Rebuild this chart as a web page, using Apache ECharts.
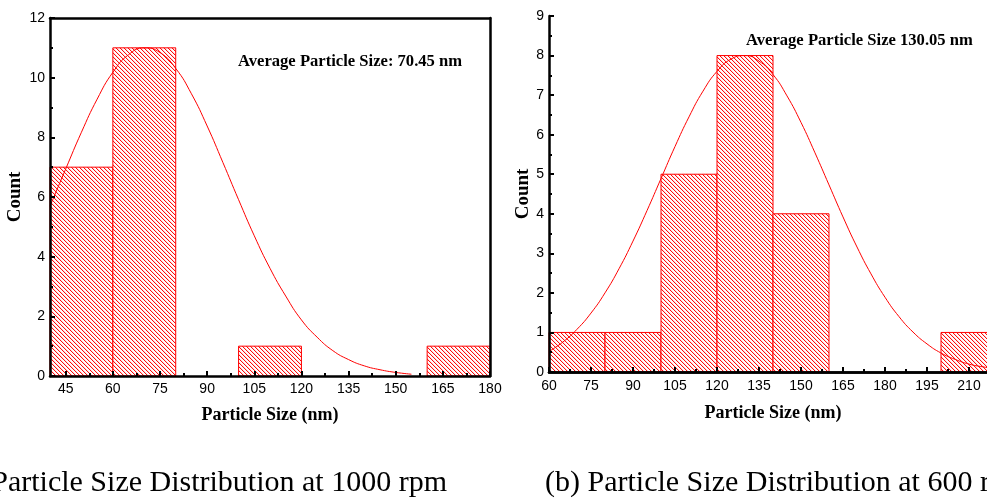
<!DOCTYPE html>
<html>
<head>
<meta charset="utf-8">
<script src="https://cdn.jsdelivr.net/npm/echarts@6/dist/echarts.min.js"></script>
<style>
html,body{margin:0;padding:0;overflow:hidden;background:#fff;width:987px;height:500px;}
#c{width:1010px;height:500px;}
</style>
</head>
<body>
<div id="c"></div>
<script>
// ---- Data (a) 1000 rpm ----
const leftBinStart = [40, 60, 100, 160];
const leftBinEnd   = [60, 80, 120, 180];
const leftCounts   = [7, 11, 1, 1];
const leftCurveX = [40,45,50,55,60,65,70,75,80,85,90,95,100,105,110,115,120,125,130,135,140,145,150,155];
const leftCurveY = [5.69,6.94,8.17,9.28,10.18,10.77,11.0,10.84,10.31,9.46,8.38,7.16,5.91,4.70,3.61,2.68,1.88,1.30,0.85,0.55,0.34,0.21,0.12,0.06];
const leftXTicks = [45,60,75,90,105,120,135,150,165,180];
const leftXMinor = [52.5,67.5,82.5,97.5,112.5,127.5,142.5,157.5,172.5];
const leftNote = 'Average Particle Size: 70.45 nm';

// ---- Data (b) 600 rpm ----
const rightBinStart = [60, 80, 100, 120, 140, 200];
const rightBinEnd   = [80, 100, 120, 140, 160, 220];
const rightCounts   = [1, 1, 5, 8, 4, 1];
const rightCurveX = [60,65,70,75,80,85,90,95,100,105,110,115,120,125,130,135,140,145,150,155,160,165,170,175,180,185,190,195,200,205,210,215,220];
const rightCurveY = [0.52,0.76,1.08,1.49,2.00,2.61,3.31,4.08,4.89,5.70,6.45,7.10,7.60,7.91,8.0,7.86,7.52,6.98,6.31,5.54,4.73,3.92,3.16,2.48,1.89,1.40,1.01,0.71,0.48,0.32,0.20,0.13,0.08];
const rightXLabels = [60,75,90,105,120,135,150,165,180,195,210];
const rightNote = 'Average Particle Size 130.05 nm';

const xTitle = 'Particle Size (nm)';
const yTitle = 'Count';
const captionA = '(a) Particle Size Distribution at 1000 rpm';
const captionB = '(b) Particle Size Distribution at 600 rpm';

// hatch pattern
const pc = document.createElement('canvas');
pc.width = 4; pc.height = 4;
const g = pc.getContext('2d');
g.fillStyle = '#fff'; g.fillRect(0,0,4,4);
for (let i = 0; i < 4; i++) {
  g.fillStyle = 'rgba(255,0,0,0.95)'; g.fillRect(i, i, 1, 1);
  g.fillStyle = 'rgba(255,0,0,0.15)'; g.fillRect((i+1)%4, i, 1, 1);
}
const hatch = {image: pc, repeat: 'repeat'};

function bins(s, e, c){ return s.map((v,i)=>[v, e[i], c[i]]); }
function pts(xs, ys){ return xs.map((v,i)=>[v, ys[i]]); }

function renderBar(params, api){
  const p0 = api.coord([api.value(0), api.value(2)]);
  const p1 = api.coord([api.value(1), 0]);
  return {type:'rect', shape:{x:p0[0], y:p0[1], width:p1[0]-p0[0], height:p1[1]-p0[1]},
    style:{fill: hatch, stroke:'#ff0000', lineWidth:1}};
}

const lab = {color:'#000', fontFamily:'Liberation Sans', fontSize:14};
const nameStyle = {color:'#000', fontFamily:'Liberation Serif', fontWeight:'bold', fontSize:18};
const line = {show:true, lineStyle:{color:'#000', width:2.5}};
const tick = {show:true, inside:true, length:5, lineStyle:{color:'#000', width:2}};
const minor = {show:true, splitNumber:2, length:3, lineStyle:{color:'#000', width:2}};

const chart = echarts.init(document.getElementById('c'), null, {renderer:'canvas'});
chart.setOption({
  animation:false,
  grid:[
    {left:50, top:18, width:440, height:358},
    {left:549, top:16, width:448, height:356}
  ],
  xAxis:[
    {gridIndex:0, type:'value', min:40, max:180, position:'bottom', z:10,
     axisLine:line, splitLine:{show:false},
     axisTick:Object.assign({}, tick, {customValues:leftXTicks}),
     axisLabel:Object.assign({}, lab, {customValues:leftXTicks, margin:6}),
     name:xTitle, nameLocation:'middle', nameGap:30, nameTextStyle:nameStyle},
    {gridIndex:0, type:'value', min:40, max:180, position:'bottom', z:10,
     axisLine:{show:false}, splitLine:{show:false}, axisLabel:{show:false},
     axisTick:{show:true, inside:true, length:3, lineStyle:{color:'#000', width:2}, customValues:leftXMinor}},
    {gridIndex:0, type:'value', min:40, max:180, position:'top', z:10,
     axisLine:line, axisTick:{show:false}, axisLabel:{show:false}, splitLine:{show:false}},
    {gridIndex:1, type:'value', min:60, max:220, interval:15, position:'bottom', z:10,
     axisLine:line, splitLine:{show:false}, axisTick:tick, minorTick:minor,
     axisLabel:Object.assign({}, lab, {margin:7, customValues:rightXLabels}),
     name:xTitle, nameLocation:'middle', nameGap:32, nameTextStyle:nameStyle},
    {gridIndex:1, type:'value', min:60, max:220, position:'top', z:10,
     axisLine:line, axisTick:{show:false}, axisLabel:{show:false}, splitLine:{show:false}}
  ],
  yAxis:[
    {gridIndex:0, type:'value', min:0, max:12, interval:2, position:'left', z:10,
     axisLine:line, splitLine:{show:false}, axisTick:tick, minorTick:minor,
     axisLabel:Object.assign({}, lab, {margin:5}),
     name:yTitle, nameLocation:'middle', nameGap:25.5, nameTextStyle:Object.assign({}, nameStyle, {fontSize:19})},
    {gridIndex:0, type:'value', min:0, max:12, position:'right', z:10,
     axisLine:line, axisTick:{show:false}, axisLabel:{show:false}, splitLine:{show:false}},
    {gridIndex:1, type:'value', min:0, max:9, interval:1, position:'left', z:10,
     axisLine:line, splitLine:{show:false}, axisTick:tick, minorTick:minor,
     axisLabel:Object.assign({}, lab, {margin:5}),
     name:yTitle, nameLocation:'middle', nameGap:16.5, nameTextStyle:Object.assign({}, nameStyle, {fontSize:19})},
    {gridIndex:1, type:'value', min:0, max:9, position:'right', z:10,
     axisLine:line, axisTick:{show:false}, axisLabel:{show:false}, splitLine:{show:false}}
  ],
  series:[
    {type:'custom', xAxisIndex:0, yAxisIndex:0, renderItem:renderBar,
     encode:{x:[0,1], y:2}, data:bins(leftBinStart, leftBinEnd, leftCounts), z:2},
    {type:'line', xAxisIndex:0, yAxisIndex:0, data:pts(leftCurveX, leftCurveY), smooth:true,
     showSymbol:false, lineStyle:{color:'#ff0000', width:1}, z:3},
    {type:'custom', xAxisIndex:3, yAxisIndex:2, renderItem:renderBar,
     encode:{x:[0,1], y:2}, data:bins(rightBinStart, rightBinEnd, rightCounts), z:2},
    {type:'line', xAxisIndex:3, yAxisIndex:2, data:pts(rightCurveX, rightCurveY), smooth:true,
     showSymbol:false, lineStyle:{color:'#ff0000', width:1}, z:3}
  ],
  graphic:[
    {type:'text', left:238, top:53, z:20, style:{text:leftNote, fill:'#000',
      font:'bold 16.6px "Liberation Serif"'}},
    {type:'text', left:746, top:32, z:20, style:{text:rightNote, fill:'#000',
      font:'bold 16.6px "Liberation Serif"'}},
    {type:'text', x:447, y:483, z:20, style:{text:captionA, fill:'#000', align:'right', verticalAlign:'middle',
      font:'30px "Liberation Serif"'}},
    {type:'text', x:545, y:483, z:20, style:{text:captionB, fill:'#000', align:'left', verticalAlign:'middle',
      font:'30px "Liberation Serif"'}}
  ]
});
</script>
</body>
</html>
